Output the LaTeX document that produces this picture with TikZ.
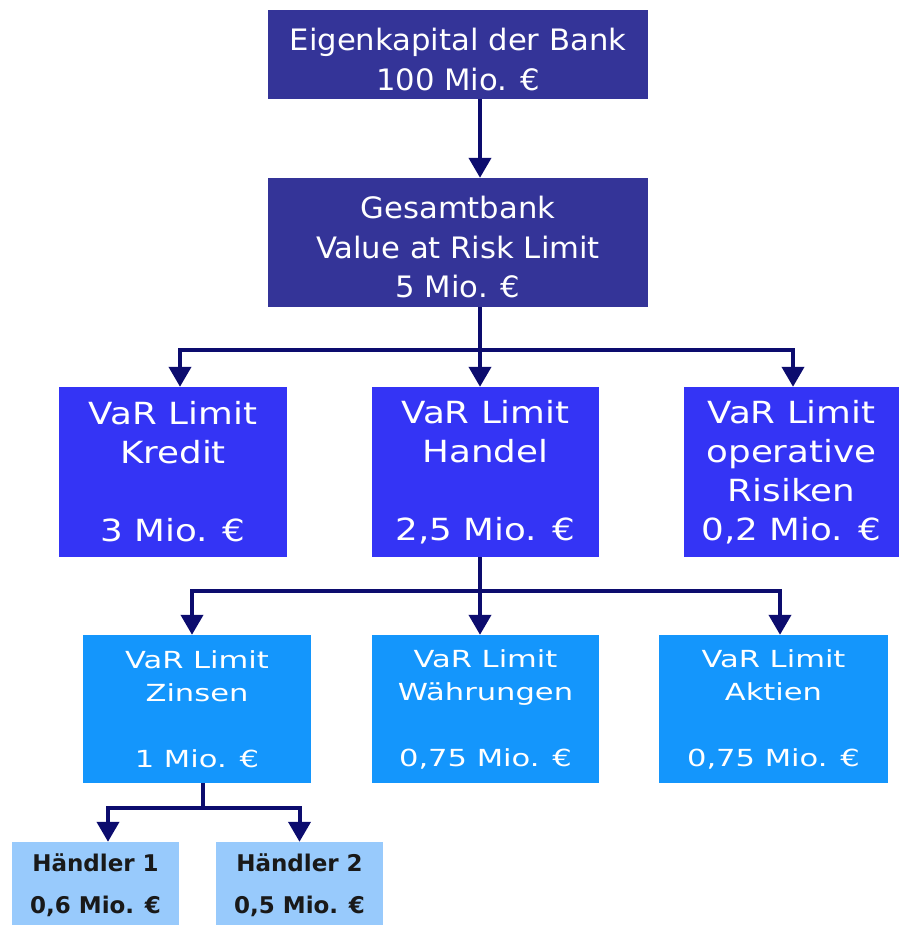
\documentclass[tikz,border=0pt]{standalone}
\usepackage{fontspec}
\setmainfont{DejaVu Sans}
\newfontfamily\fontTop{DejaVu Sans}[FakeStretch=1.04]
\newfontfamily\fontMid{DejaVu Sans}[FakeStretch=1.17]
\newfontfamily\fontLow{DejaVu Sans}[FakeStretch=1.3]
\usetikzlibrary{arrows.meta}
\definecolor{darkbox}{RGB}{52,52,152}
\definecolor{midbox}{RGB}{52,52,245}
\definecolor{lightbox}{RGB}{20,150,252}
\definecolor{palebox}{RGB}{152,202,252}
\definecolor{navy}{RGB}{12,12,110}
\newcommand{\topstrut}{\rule{0pt}{32pt}}
\tikzset{
  box/.style={rectangle, inner sep=0pt, align=center, text=white},
  topbox/.style={box, fill=darkbox, font=\fontTop\fontsize{29.5}{40}\selectfont},
  midrow/.style={box, fill=midbox, font=\fontMid\fontsize{30.5}{39}\selectfont},
  lowrow/.style={box, fill=lightbox, font=\fontLow\fontsize{23.5}{33}\selectfont},
  traderbox/.style={box, fill=palebox, text={black!90}, font=\bfseries\fontsize{23}{42}\selectfont},
  link/.style={draw=navy, line width=4pt},
  conn/.style={link, -{Triangle[width=22pt,length=20pt]}},
}
\begin{document}
\begin{tikzpicture}[x=1pt,y=-1pt]
\useasboundingbox (0,0) rectangle (899,925);
% nodes
\node[topbox, minimum width=380pt, minimum height=89pt] (eigen) at (458,54.5) {\topstrut Eigenkapital der Bank\\100 Mio. €};
\node[topbox, minimum width=380pt, minimum height=129pt, font=\fontTop\fontsize{29.5}{39.5}\selectfont] (gesamt) at (458,242.5) {\topstrut Gesamtbank\\Value at Risk Limit\\5 Mio. €};
\node[midrow, minimum width=228pt, minimum height=170pt] (kredit) at (173,472) {VaR Limit\\Kredit\\[39pt]3 Mio. €};
\node[midrow, minimum width=227pt, minimum height=170pt] (handel) at (485.5,472) {VaR Limit\\Handel\\[39pt]2,5 Mio. €};
\node[midrow, minimum width=215pt, minimum height=170pt] (oprisk) at (791.5,472) {VaR Limit\\operative\\Risiken\\0,2 Mio. €};
\node[lowrow, minimum width=228pt, minimum height=148pt] (zinsen) at (197,709) {VaR Limit\\Zinsen\\[33pt]1 Mio. €};
\node[lowrow, minimum width=227pt, minimum height=148pt] (waehr) at (485.5,709) {VaR Limit\\Währungen\\[33pt]0,75 Mio. €};
\node[lowrow, minimum width=229pt, minimum height=148pt] (aktien) at (773.5,709) {VaR Limit\\Aktien\\[33pt]0,75 Mio. €};
\node[traderbox, minimum width=167pt, minimum height=86pt] (h1) at (95.5,885) {Händler 1\\0,6 Mio. €};
\node[traderbox, minimum width=167pt, minimum height=86pt] (h2) at (299.5,885) {Händler 2\\0,5 Mio. €};
% junction points
\coordinate (a1) at (480,0);
\coordinate (j1) at (480,350);
\coordinate (j2) at (480,591);
\coordinate (j3) at (203,808);
% connectors
\draw[conn] (eigen.south -| a1) -- (gesamt.north -| a1);
\draw[link] (gesamt.south -| j1) -- (j1);
\draw[conn] (j1) -| ([xshift=7pt]kredit.north);
\draw[conn] (j1) -- (handel.north -| j1);
\draw[conn] (j1) -| ([xshift=1.5pt]oprisk.north);
\draw[link] (handel.south -| j2) -- (j2);
\draw[conn] (j2) -| ([xshift=-5pt]zinsen.north);
\draw[conn] (j2) -- (waehr.north -| j2);
\draw[conn] (j2) -| ([xshift=6.5pt]aktien.north);
\draw[link] (zinsen.south -| j3) -- (j3);
\draw[conn] (j3) -| ([xshift=12.5pt]h1.north);
\draw[conn] (j3) -| (h2.north);
\end{tikzpicture}
\end{document}
